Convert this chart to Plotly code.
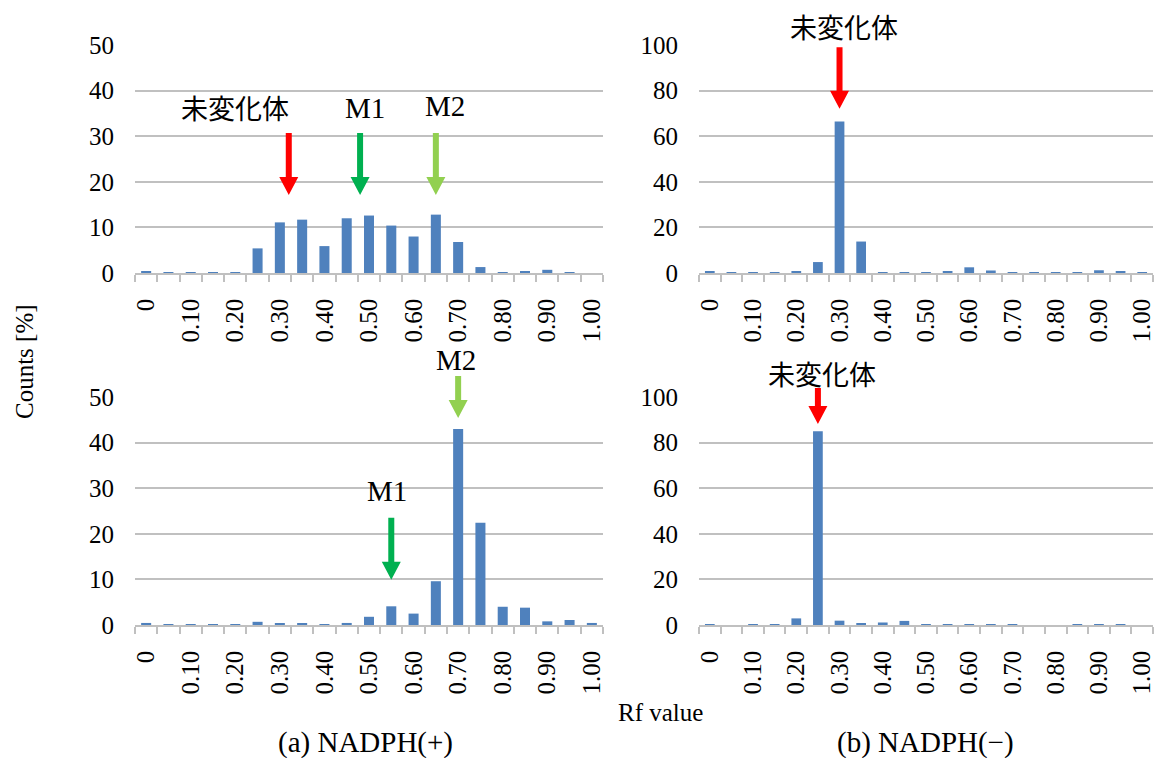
import plotly.graph_objects as go

# Rf categories (bin centres) and tick labels
rf_bins = [0.00, 0.05, 0.10, 0.15, 0.20, 0.25, 0.30, 0.35, 0.40, 0.45, 0.50,
           0.55, 0.60, 0.65, 0.70, 0.75, 0.80, 0.85, 0.90, 0.95, 1.00]
tick_vals = [0.0, 0.1, 0.2, 0.3, 0.4, 0.5, 0.6, 0.7, 0.8, 0.9, 1.0]
tick_text = ["0", "0.10", "0.20", "0.30", "0.40", "0.50", "0.60", "0.70", "0.80", "0.90", "1.00"]

# Counts [%] per Rf bin
nadph_plus_top = [0.4, 0.1, 0.2, 0.2, 0.2, 5.4, 11.1, 11.7, 5.9, 12.0, 12.6,
                  10.4, 8.0, 12.8, 6.8, 1.3, 0.2, 0.3, 0.7, 0.2, 0.0]
nadph_minus_top = [0.5, 0.1, 0.2, 0.2, 0.6, 4.8, 66.5, 13.8, 0.2, 0.2, 0.2,
                   0.6, 2.5, 1.1, 0.1, 0.2, 0.2, 0.2, 1.2, 0.5, 0.2]
nadph_plus_bottom = [0.45, 0.2, 0.2, 0.15, 0.1, 0.7, 0.4, 0.4, 0.15, 0.45, 1.8,
                     4.1, 2.5, 9.6, 43.0, 22.4, 4.0, 3.8, 0.8, 1.1, 0.45]
nadph_minus_bottom = [0.1, 0.0, 0.1, 0.3, 2.9, 85.0, 1.9, 0.6, 1.1, 1.8, 0.15,
                      0.1, 0.1, 0.1, 0.1, 0.0, 0.0, 0.15, 0.3, 0.1, 0.0]

# Arrow markers: panel, Rf position, tip value, tail value, colour
arrow_panel = [1, 1, 1, 2, 3, 3, 4]
arrow_x = [0.32, 0.48, 0.65, 0.30, 0.55, 0.70, 0.25]
arrow_tip = [17.1, 17.1, 17.1, 72.0, 9.9, 45.4, 88.2]
arrow_tail = [30.7, 30.7, 30.7, 99.0, 23.5, 54.6, 104.0]
RED, GREEN, LIGHT_GREEN = "#FF0000", "#00B050", "#92D050"
arrow_color = [RED, GREEN, LIGHT_GREEN, RED, GREEN, LIGHT_GREEN, RED]

# Arrow labels
label_panel = [1, 1, 1, 2, 3, 3, 4]
label_text = ["未変化体", "M1", "M2", "未変化体", "M1", "M2", "未変化体"]
label_x = [0.20, 0.49, 0.67, 0.31, 0.54, 0.695, 0.26]
label_y = [36.2, 36.2, 36.6, 107.9, 29.4, 58.1, 110.5]

W, H = 1161, 758
SERIF = "Liberation Serif, Times New Roman, serif"
CJK = "Noto Sans CJK JP"
BAR = "#4F81BD"
GRID = "#C0C0C0"

# plot-area pixel boxes: (left, right, top, bottom)
boxes = {1: (135, 603, 45, 273), 2: (699, 1153, 45, 273),
         3: (135, 603, 397, 625), 4: (699, 1153, 397, 625)}
y_max = {1: 50, 2: 100, 3: 50, 4: 100}
y_step = {1: 10, 2: 20, 3: 10, 4: 20}
series = {1: nadph_plus_top, 2: nadph_minus_top, 3: nadph_plus_bottom, 4: nadph_minus_bottom}
x_range = [-0.025, 1.025]

fig = go.Figure()
layout = dict(
    template="none",
    width=W, height=H, margin=dict(l=0, r=0, t=0, b=0, pad=0, autoexpand=False),
    paper_bgcolor="white", plot_bgcolor="white", showlegend=False,
    bargap=0.55, font=dict(family=SERIF, color="black"),
)

for p in range(1, 5):
    sfx = "" if p == 1 else str(p)
    l, r, t, b = boxes[p]
    fig.add_trace(go.Bar(x=rf_bins, y=series[p], marker=dict(color=BAR, line=dict(width=0)),
                         xaxis="x" + sfx, yaxis="y" + sfx))
    layout["xaxis" + sfx] = dict(
        domain=[l / W, r / W], anchor="y" + sfx, range=x_range, automargin=False,
        tickmode="array", tickvals=tick_vals, ticktext=tick_text, tickangle=-90,
        ticks="", ticklabelstandoff=14, tickfont=dict(family=SERIF, size=25, color="black"),
        showline=True, linecolor=GRID, linewidth=1.5, showgrid=False, zeroline=False,
        minor=dict(ticks="outside", tick0=-0.025, dtick=0.05, ticklen=7,
                   tickcolor=GRID, tickwidth=1.5, showgrid=False),
        fixedrange=True,
    )
    layout["yaxis" + sfx] = dict(
        domain=[1 - b / H, 1 - t / H], anchor="x" + sfx, range=[0, y_max[p]], automargin=False,
        dtick=y_step[p], tick0=0, ticks="", ticklabelstandoff=20,
        tickfont=dict(family=SERIF, size=25, color="black"),
        showgrid=True, gridcolor=GRID, gridwidth=1.5, zeroline=False, showline=False,
        fixedrange=True,
    )

fig.update_layout(**layout)


def to_paper(p, xv, yv):
    """Map a (Rf, count) pair of panel p to paper coordinates."""
    l, r, t, b = boxes[p]
    px = l + (xv - x_range[0]) / (x_range[1] - x_range[0]) * (r - l)
    py = b - yv / y_max[p] * (b - t)
    return px / W, 1 - py / H, (b - t) / y_max[p]


shapes = []
for p, xv, tip, tail, col in zip(arrow_panel, arrow_x, arrow_tip, arrow_tail, arrow_color):
    xa, ya, ppu = to_paper(p, xv, tip)
    length = (tail - tip) * ppu
    hh, hw, sw = 18, 9.5, 3
    path = (f"M0,0 L{-hw},{hh} L{-sw},{hh} L{-sw},{length} L{sw},{length} "
            f"L{sw},{hh} L{hw},{hh} Z")
    shapes.append(dict(type="path", xref="paper", yref="paper", xsizemode="pixel",
                       ysizemode="pixel", xanchor=xa, yanchor=ya, path=path,
                       fillcolor=col, line=dict(width=0), layer="above"))
fig.update_layout(shapes=shapes)

annotations = []
for p, txt, xv, yv in zip(label_panel, label_text, label_x, label_y):
    is_cjk = txt == "未変化体"
    xa, ya, _ = to_paper(p, xv, yv)
    annotations.append(dict(
        text=txt, x=xa, y=ya, xref="paper", yref="paper", showarrow=False,
        xanchor="center", yanchor="middle",
        font=dict(family=CJK if is_cjk else SERIF, size=27 if is_cjk else 29, color="black"),
    ))


def paper_text(txt, px, py, size, angle=0):
    return dict(text=txt, x=px / W, y=1 - py / H, xref="paper", yref="paper",
                xanchor="center", yanchor="middle", textangle=angle, showarrow=False,
                font=dict(family=SERIF, size=size, color="black"))


annotations += [
    paper_text("Counts [%]", 25, 362, 25, -90),
    paper_text("Rf value", 660, 712, 25),
    paper_text("(a) NADPH(+)", 365, 742, 29),
    paper_text("(b) NADPH(−)", 925, 742, 29),
]
fig.update_layout(annotations=annotations)

fig.write_html("out.html")
